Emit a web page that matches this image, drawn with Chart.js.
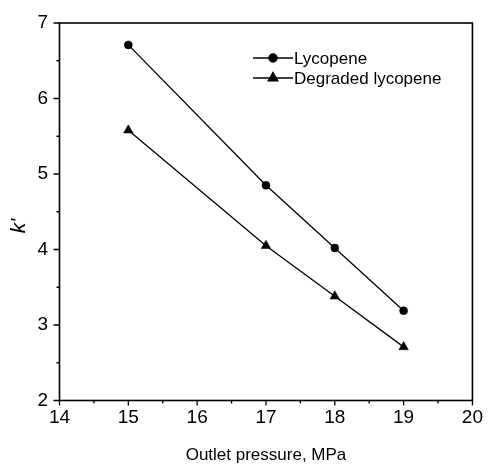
<!DOCTYPE html>
<html>
<head>
<meta charset="utf-8">
<script src="https://cdn.jsdelivr.net/npm/chart.js@4.4.1/dist/chart.umd.min.js"></script>
<style>
  html, body { margin: 0; padding: 0; background: #fff; }
  #wrap { width: 489px; height: 467px; }
</style>
</head>
<body>
<div id="wrap"><canvas id="kChart" width="489" height="467"></canvas></div>
<script>
// outlet pressure (MPa) vs capacity factor k'
const pressure = [15, 17, 18, 19];
const kLycopene = [6.71, 4.85, 4.02, 3.19];
const kDegraded = [5.58, 4.05, 3.38, 2.71];
const seriesNames = ['Lycopene', 'Degraded lycopene'];
const xTicks = [14, 15, 16, 17, 18, 19, 20];
const yTicks = [2, 3, 4, 5, 6, 7];

const FONT = 'Arial, "Liberation Sans", sans-serif';

function toPoints(xs, ys) {
	return xs.map((x, i) => ({x: x, y: ys[i]}));
}

// frame, outward ticks, y title and legend
const framePlugin = {
	id: 'frame',
	afterDraw(chart) {
		const ctx = chart.ctx;
		const area = chart.chartArea;
		const xs = chart.scales.x;
		const ys = chart.scales.y;
		ctx.save();
		ctx.strokeStyle = '#000';
		ctx.lineWidth = 1.6;
		ctx.strokeRect(area.left, area.top, area.right - area.left, area.bottom - area.top);

		// ticks on bottom and left, minor ones at half steps
		ctx.lineWidth = 1.3;
		ctx.beginPath();
		for (let v = xs.min; v <= xs.max + 1e-9; v += 0.5) {
			const px = xs.getPixelForValue(v);
			const len = Number.isInteger(v) ? 5 : 3;
			ctx.moveTo(px, area.bottom);
			ctx.lineTo(px, area.bottom + len);
		}
		for (let v = ys.min; v <= ys.max + 1e-9; v += 0.5) {
			const py = ys.getPixelForValue(v);
			const len = Number.isInteger(v) ? 6 : 3;
			ctx.moveTo(area.left, py);
			ctx.lineTo(area.left - len, py);
		}
		ctx.stroke();

		// y axis title
		ctx.fillStyle = '#000';
		ctx.font = 'italic 21px ' + FONT;
		ctx.textAlign = 'center';
		ctx.textBaseline = 'middle';
		ctx.translate(19, 226);
		ctx.rotate(-Math.PI / 2);
		ctx.fillText("k'", 0, 0);
		ctx.restore();

		// legend: —marker— label
		ctx.save();
		ctx.font = '17px ' + FONT;
		ctx.textAlign = 'left';
		ctx.textBaseline = 'middle';
		chart.data.datasets.forEach((ds, i) => {
			const y = 58 + i * 20;
			ctx.strokeStyle = '#000';
			ctx.lineWidth = 1.4;
			ctx.beginPath();
			ctx.moveTo(253, y);
			ctx.lineTo(293, y);
			ctx.stroke();
			ctx.fillStyle = '#000';
			Chart.helpers.drawPoint(ctx, {
				pointStyle: ds.pointStyle,
				radius: ds.pointRadius,
				rotation: 0,
				borderWidth: 1
			}, 273, y);
			ctx.fillStyle = '#000';
			ctx.fillText(ds.label, 294, y + 1);
		});
		ctx.restore();
	}
};

const ctx = document.getElementById('kChart').getContext('2d');
new Chart(ctx, {
	type: 'scatter',
	data: {
		datasets: [{
			label: seriesNames[0],
			data: toPoints(pressure, kLycopene),
			showLine: true,
			borderColor: '#000',
			borderWidth: 1.3,
			backgroundColor: '#000',
			pointStyle: 'circle',
			pointRadius: 4,
			pointBorderWidth: 0.5,
			tension: 0
		}, {
			label: seriesNames[1],
			data: toPoints(pressure, kDegraded),
			showLine: true,
			borderColor: '#000',
			borderWidth: 1.3,
			backgroundColor: '#000',
			pointStyle: 'triangle',
			pointRadius: 5.5,
			pointBorderWidth: 0.5,
			tension: 0
		}]
	},
	options: {
		responsive: false,
		animation: false,
		devicePixelRatio: 1,
		layout: {
			padding: {top: 23, right: 12, left: 0, bottom: 0}
		},
		plugins: {
			legend: {display: false},
			tooltip: {enabled: false}
		},
		scales: {
			x: {
				type: 'linear',
				min: 14,
				max: 20,
				afterBuildTicks: (scale) => { scale.ticks = xTicks.map(v => ({value: v})); },
				afterFit: (scale) => { scale.height = 66.5; },
				grid: {display: false, drawTicks: false},
				border: {display: false},
				ticks: {
					color: '#000',
					padding: 6,
					font: {family: FONT, size: 19}
				},
				title: {
					display: true,
					text: 'Outlet pressure, MPa',
					color: '#000',
					font: {family: FONT, size: 17},
					padding: {top: 0, bottom: 1}
				}
			},
			y: {
				type: 'linear',
				min: 2,
				max: 7,
				afterBuildTicks: (scale) => { scale.ticks = yTicks.map(v => ({value: v})); },
				afterFit: (scale) => { scale.width = 59.5; },
				grid: {display: false, drawTicks: false},
				border: {display: false},
				ticks: {
					color: '#000',
					padding: 11.5,
					font: {family: FONT, size: 19}
				}
			}
		}
	},
	plugins: [framePlugin]
});
</script>
</body>
</html>
